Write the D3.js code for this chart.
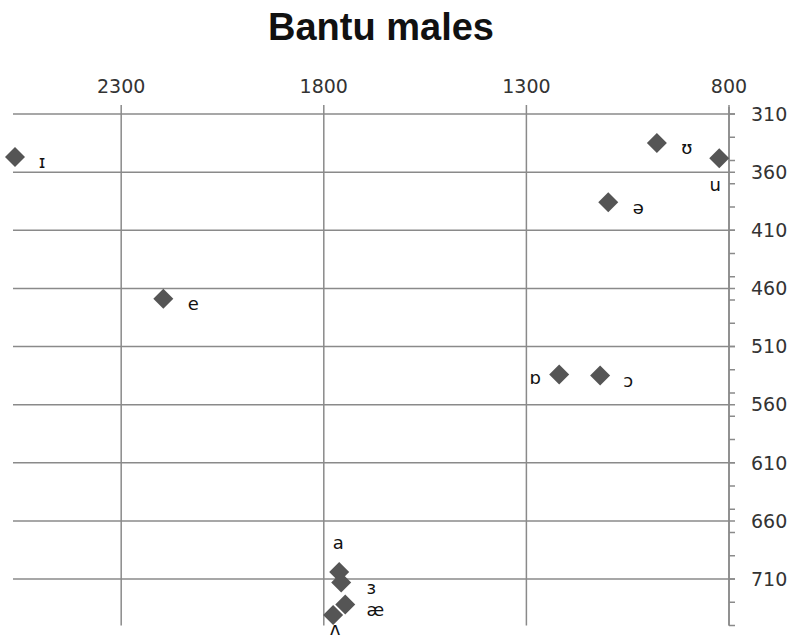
<!DOCTYPE html>
<html>
<head>
<meta charset="utf-8">
<script src="https://cdn.jsdelivr.net/npm/d3@7"></script>
<style>
  html, body { margin: 0; padding: 0; background: #fff; }
  svg { display: block; }
</style>
</head>
<body>
<svg id="chart" width="795" height="641"></svg>
<script>
// ---- data ----
const title = "Bantu males";
const vowels = ["ɪ", "e", "ʊ", "u", "ə", "ɒ", "ɔ", "a", "ɜ", "æ", "ʌ"];
const f2Values = [2562, 2196, 978, 824, 1098, 1219, 1118, 1762, 1757, 1747, 1777];
const f1Values = [347, 469, 335, 348, 386, 534, 535, 704, 713, 732, 741];
const xTickValues = [2300, 1800, 1300, 800];
const yTickValues = [310, 360, 410, 460, 510, 560, 610, 660, 710];
const yMinorStep = 20;

// ---- layout ----
const svg = d3.select("#chart");
const x = d3.scaleLinear().domain([2567, 800]).range([13, 729]);
const y = d3.scaleLinear().domain([310, 750]).range([114, 625.5]);
const gridColor = "#8a8a8a";
const textColor = "#333";

// title
svg.append("text")
  .attr("x", 381).attr("y", 40)
  .attr("text-anchor", "middle")
  .attr("font-family", "'Liberation Sans', Arial, sans-serif")
  .attr("font-weight", "bold")
  .attr("font-size", 38)
  .attr("fill", "#111")
  .text(title);

// vertical gridlines (x major)
svg.append("g").selectAll("line").data(xTickValues).join("line")
  .attr("x1", d => x(d)).attr("x2", d => x(d))
  .attr("y1", y(310) - 9).attr("y2", y(750))
  .attr("stroke", gridColor).attr("stroke-width", 1.5);

// horizontal gridlines (y major)
svg.append("g").selectAll("line").data(yTickValues).join("line")
  .attr("x1", x.range()[0]).attr("x2", x(800) + 6)
  .attr("y1", d => y(d)).attr("y2", d => y(d))
  .attr("stroke", gridColor).attr("stroke-width", 1.5);

// y axis line
svg.append("line")
  .attr("x1", x(800)).attr("x2", x(800))
  .attr("y1", y(310) - 7).attr("y2", y(750))
  .attr("stroke", gridColor).attr("stroke-width", 1.5);

// y minor ticks
const minorTicks = d3.range(310, 750.1, yMinorStep);
svg.append("g").selectAll("line").data(minorTicks).join("line")
  .attr("x1", x(800)).attr("x2", x(800) + 6)
  .attr("y1", d => y(d)).attr("y2", d => y(d))
  .attr("stroke", gridColor).attr("stroke-width", 1.5);

// x tick labels
svg.append("g").selectAll("text").data(xTickValues).join("text")
  .attr("x", d => x(d)).attr("y", 93)
  .attr("text-anchor", "middle")
  .attr("font-family", "'DejaVu Sans', sans-serif")
  .attr("font-size", 19)
  .attr("fill", textColor)
  .text(d => d);

// y tick labels
svg.append("g").selectAll("text").data(yTickValues).join("text")
  .attr("x", 751).attr("y", d => y(d))
  .attr("dy", "0.36em")
  .attr("font-family", "'DejaVu Sans', sans-serif")
  .attr("font-size", 19)
  .attr("fill", textColor)
  .text(d => d);

// points
const pts = vowels.map((v, i) => ({ v, f2: f2Values[i], f1: f1Values[i] }));
svg.append("g").selectAll("path").data(pts).join("path")
  .attr("d", d3.symbol().type(d3.symbolSquare).size(200))
  .attr("transform", d => `translate(${x(d.f2)},${y(d.f1)}) rotate(45)`)
  .attr("fill", "#555");

// labels
const placement = { "ɪ": [27, 5], "ɔ": [28, 5], "u": [-4, 27], "a": [-1, -29], "ʌ": [2, 14], "ɒ": [-24, 3] };
svg.append("g").selectAll("text").data(pts).join("text")
  .attr("x", d => x(d.f2) + (placement[d.v] ? placement[d.v][0] : 30))
  .attr("y", d => y(d.f1) + (placement[d.v] ? placement[d.v][1] : 5))
  .attr("dy", "0.35em")
  .attr("text-anchor", "middle")
  .attr("font-family", "'DejaVu Sans', sans-serif")
  .attr("font-size", 18)
  .attr("fill", "#111")
  .text(d => d.v);
</script>
</body>
</html>
